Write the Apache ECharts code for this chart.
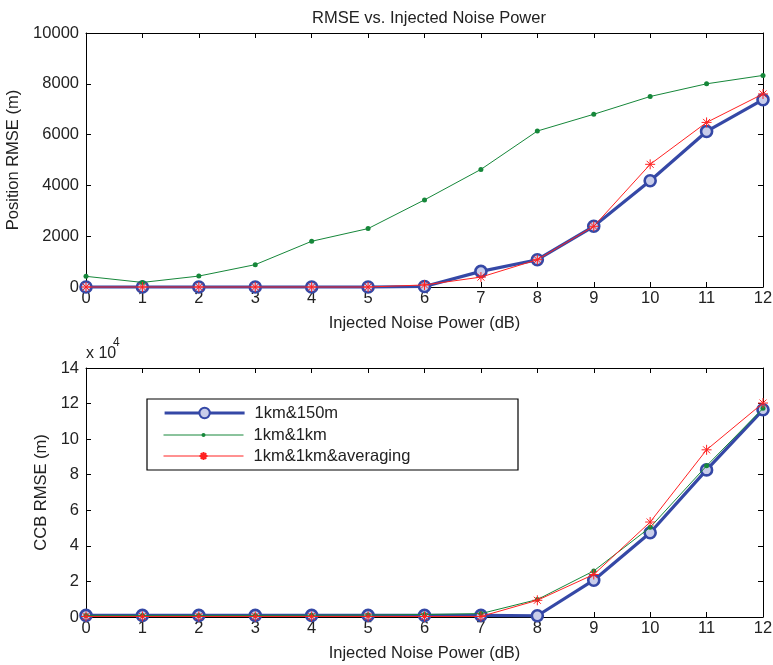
<!DOCTYPE html>
<html><head><meta charset="utf-8">
<script src="https://cdn.jsdelivr.net/npm/echarts@6/dist/echarts.min.js"></script>
<style>html,body{margin:0;padding:0;background:#fff}#c{width:773px;height:665px}</style>
</head><body><div id="c"></div>
<script>
const noisePower = [0,1,2,3,4,5,6,7,8,9,10,11,12];
const seriesNames = ['1km&150m','1km&1km','1km&1km&averaging'];
const posBlue  = [0,0,0,0,0,0,20,614,1075,2390,4185,6125,7375];
const posGreen = [420,180,430,880,1800,2300,3430,4630,6140,6800,7500,8000,8330];
const posRed   = [0,0,0,0,0,0,80,390,1075,2390,4830,6480,7600];
const ccbBlue  = [900,900,900,900,900,900,900,900,700,20700,47400,82700,116500];
const ccbGreen = [900,900,900,900,1000,1100,1400,1900,9800,25900,50400,85000,117300];
const ccbRed   = [300,300,300,300,300,300,300,300,9400,23900,53400,94000,120300];

const FONT = 'Liberation Sans';
const FS = 16.5;
const BLUE = '#3548a6', GREEN = '#16873a', RED = '#ff2222';
const ASTER = 'path://M5,0L5,10M0,5L10,5M1.5,1.5L8.5,8.5M1.5,8.5L8.5,1.5';

function pairs(v){ return noisePower.map((x,i)=>[x,v[i]]); }

function mk(name, data, gi, kind){
  const s = {name, type:'line', data:pairs(data), xAxisIndex:gi*2, yAxisIndex:gi*2, clip:false, animation:false};
  if(kind===0){
    Object.assign(s,{symbol:'circle', symbolSize:11, lineStyle:{color:BLUE,width:3.2},
      itemStyle:{color:'#c9cdea',borderColor:BLUE,borderWidth:2.6}, z:2});
  } else if(kind===1){
    Object.assign(s,{symbol:'circle', symbolSize:5, lineStyle:{color:GREEN,width:1},
      itemStyle:{color:GREEN,borderColor:GREEN,borderWidth:0}, z:3});
  } else {
    Object.assign(s,{symbol:ASTER, symbolSize:10, lineStyle:{color:RED,width:1},
      itemStyle:{color:'transparent',borderColor:RED,borderWidth:1}, z:4});
  }
  return s;
}

const axisLabel = {color:'#222', fontFamily:FONT, fontSize:FS};
const tick = {show:true, inside:true, length:5, lineStyle:{color:'#000'}};
const aline = {show:true, onZero:false, lineStyle:{color:'#000',width:1}};
function xAxes(gi){
  return [
    {gridIndex:gi, type:'value', min:0, max:12, interval:1, position:'bottom',
     name:'Injected Noise Power (dB)', nameLocation:'middle', nameGap:28,
     nameTextStyle:{color:'#222', fontFamily:FONT, fontSize:FS},
     axisLine:aline, axisTick:tick,
     axisLabel:Object.assign({margin:3},axisLabel), splitLine:{show:false}},
    {gridIndex:gi, type:'value', min:0, max:12, interval:1, position:'top',
     axisLine:aline, axisTick:tick, axisLabel:{show:false}, splitLine:{show:false}}
  ];
}
function yAxes(gi, max, interval, name, gap, fmt){
  return [
    {gridIndex:gi, type:'value', min:0, max, interval, position:'left',
     name, nameLocation:'middle', nameGap:gap, nameRotate:90,
     nameTextStyle:{color:'#222', fontFamily:FONT, fontSize:FS},
     axisLine:aline, axisTick:tick,
     axisLabel:Object.assign({margin:7, formatter:fmt},axisLabel), splitLine:{show:false}},
    {gridIndex:gi, type:'value', min:0, max, interval, position:'right',
     axisLine:aline, axisTick:tick, axisLabel:{show:false}, splitLine:{show:false}}
  ];
}

function legendRow(i, top, h, lw){
  return {data:[seriesNames[i]], orient:'horizontal', left:163, top, padding:0,
    itemWidth:80, itemHeight:h, selectedMode:false, z:6,
    lineStyle:{width:lw},
    textStyle:{color:'#222', fontFamily:FONT, fontSize:FS, lineHeight:18, padding:[0,0,0,5]}};
}

const chart = echarts.init(document.getElementById('c'), null, {renderer:'canvas'});
chart.setOption({
  backgroundColor:'#fff',
  animation:false,
  title:{text:'RMSE vs. Injected Noise Power', left:424, textAlign:'center', top:5,
    textStyle:{color:'#222', fontFamily:FONT, fontSize:FS, fontWeight:'normal'}},
  grid:[
    {left:86, right:10, top:33, height:254, outerBoundsMode:'none', containLabel:false},
    {left:86, right:10, top:368, height:249, outerBoundsMode:'none', containLabel:false}
  ],
  xAxis:[...xAxes(0), ...xAxes(1)],
  yAxis:[...yAxes(0,10000,2000,'Position RMSE (m)',64, v=>String(v)),
         ...yAxes(1,140000,20000,'CCB RMSE (m)',35, v=>String(v/10000))],
  legend:[legendRow(0,404,13,3.2), legendRow(1,426,5,1), legendRow(2,447,10,1)],
  graphic:[
    {type:'rect', z:5, shape:{x:147, y:399, width:371, height:71},
     style:{fill:'#fff', stroke:'#000', lineWidth:1.2}},
    {type:'text', left:86, top:346, style:{text:'x 10', fill:'#222', font:'16px "Liberation Sans"'}},
    {type:'text', left:113, top:337, style:{text:'4', fill:'#222', font:'12px "Liberation Sans"'}}
  ],
  series:[
    mk(seriesNames[0], posBlue, 0, 0),
    mk(seriesNames[1], posGreen, 0, 1),
    mk(seriesNames[2], posRed, 0, 2),
    mk(seriesNames[0], ccbBlue, 1, 0),
    mk(seriesNames[1], ccbGreen, 1, 1),
    mk(seriesNames[2], ccbRed, 1, 2)
  ]
});
</script></body></html>
